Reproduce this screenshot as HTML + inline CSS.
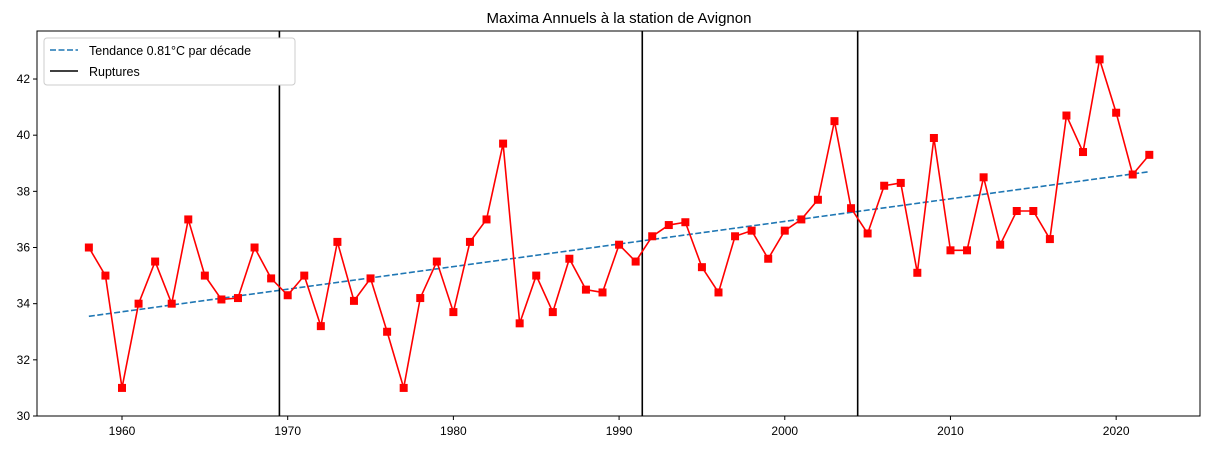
<!DOCTYPE html>
<html><head><meta charset="utf-8"><style>
body{margin:0;background:#fff;}
svg{display:block;font-family:"Liberation Sans","DejaVu Sans",sans-serif;}
</style></head><body>
<svg id="chart" width="1209" height="450"></svg>
<script>
const years = [];
for (let y = 1958; y <= 2022; y++) years.push(y);
const maxima = [36.0,35.0,31.0,34.0,35.5,34.0,37.0,35.0,34.15,34.2,36.0,34.9,34.3,35.0,33.2,36.2,34.1,34.9,33.0,31.0,34.2,35.5,33.7,36.2,37.0,39.7,33.3,35.0,33.7,35.6,34.5,34.4,36.1,35.5,36.4,36.8,36.9,35.3,34.4,36.4,36.6,35.6,36.6,37.0,37.7,40.5,37.4,36.5,38.2,38.3,35.1,39.9,35.9,35.9,38.5,36.1,37.3,37.3,36.3,40.7,39.4,42.7,40.8,38.6,39.3];
const trendYears = [1958, 2022];
const trendValues = [33.55, 38.7];
const ruptures = [1969.5, 1991.4, 2004.4];
const xTicks = [1960,1970,1980,1990,2000,2010,2020];
const yTicks = [30,32,34,36,38,40,42];

const L=37,R=1200,T=31,B=416;
const xMin=1954.87,xMax=2025.06,yMin=30,yMax=43.71;
const sx=v=>L+(v-xMin)/(xMax-xMin)*(R-L);
const sy=v=>B-(v-yMin)/(yMax-yMin)*(B-T);
const svg=document.getElementById('chart');
const NS='http://www.w3.org/2000/svg';
function mk(tag,attrs,parent){const e=document.createElementNS(NS,tag);for(const k in attrs)e.setAttribute(k,attrs[k]);(parent||svg).appendChild(e);return e;}

let t=mk('text',{x:619,y:23,'text-anchor':'middle','font-size':15,fill:'#000'});
t.textContent='Maxima Annuels à la station de Avignon';



xTicks.forEach(v=>{
  const x=sx(v);
  const l=mk('line',{x1:x,x2:x,y1:B,y2:B+4,stroke:'#000'});
  
  
  const tx=mk('text',{x:x,y:B+19,'text-anchor':'middle','font-size':12});
  tx.textContent=v;
  
  
});
yTicks.forEach(v=>{
  const y=sy(v);
  const l=mk('line',{x1:L-4,x2:L,y1:y,y2:y,stroke:'#000'});
  
  
  const tx=mk('text',{x:L-7,y:y+4,'text-anchor':'end','font-size':12});
  tx.textContent=v;
  
  
});

const tr=mk('line',{x1:sx(trendYears[0]),y1:sy(trendValues[0]),x2:sx(trendYears[1]),y2:sy(trendValues[1]),stroke:'#1f77b4','stroke-width':1.6,'stroke-dasharray':'6,2.5'});



ruptures.forEach(v=>{
  const l=mk('line',{x1:sx(v),x2:sx(v),y1:T,y2:B,stroke:'#000','stroke-width':1.6});
  
  
});

const pts=years.map((y,i)=>sx(y)+','+sy(maxima[i])).join(' ');
const pl=mk('polyline',{points:pts,fill:'none',stroke:'#ff0000','stroke-width':1.6});


years.forEach((y,i)=>{
  const r=mk('rect',{x:sx(y)-4,y:sy(maxima[i])-4,width:8,height:8,fill:'#ff0000'});
  
  
});

const fr=mk('rect',{x:L,y:T,width:R-L,height:B-T,fill:'none',stroke:'#000','stroke-width':1});



const lg=mk('g',{});


mk('rect',{x:44,y:38,width:251,height:47,rx:3,fill:'#fff',stroke:'#ccc'},lg);
mk('line',{x1:50,x2:78,y1:50,y2:50,stroke:'#1f77b4','stroke-width':1.6,'stroke-dasharray':'6,2.5'},lg);
let l1=mk('text',{x:89,y:55,'font-size':12.5},lg);l1.textContent='Tendance 0.81°C par décade';


mk('line',{x1:50,x2:78,y1:71,y2:71,stroke:'#000','stroke-width':1.6},lg);
let l2=mk('text',{x:89,y:76,'font-size':12.5},lg);l2.textContent='Ruptures';


</script>
</body></html>
